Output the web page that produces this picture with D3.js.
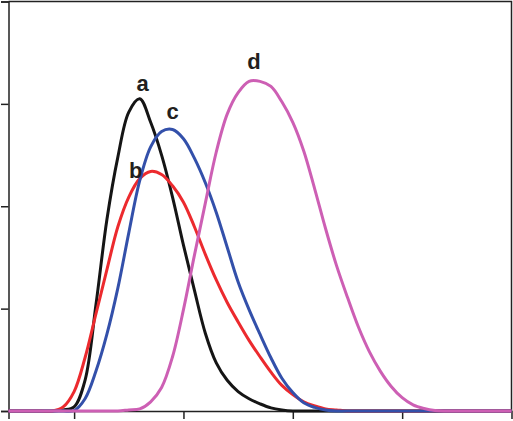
<!DOCTYPE html>
<html>
<head>
<meta charset="utf-8">
<script src="https://cdn.jsdelivr.net/npm/d3@7"></script>
<style>
    html, body { margin: 0; padding: 0; background: #fff; }
    svg { display: block; }
</style>
</head>
<body>
<svg id="chart"></svg>
<script>
// x positions shared by every curve
const xValues = [
    0.4, 0.5, 0.6, 0.7, 0.8, 0.9, 1.0, 1.1, 1.2, 1.3, 1.4, 1.5, 1.6, 1.7, 1.8, 1.9,
    2.0, 2.1, 2.2, 2.3, 2.4, 2.5, 2.6, 2.7, 2.8, 2.9, 3.0, 3.1, 3.2, 3.3, 3.4, 3.5,
    3.6, 3.7, 3.8, 3.9, 4.0, 4.1, 4.2, 4.3, 4.4, 4.5, 4.6, 4.7, 4.8, 4.9, 5.0
];

const seriesA = [
    0, 0, 0, 0, 0, 0.01, 0.04, 0.30, 1.04, 1.87, 2.48, 2.92, 3.05, 2.82, 2.50, 2.09,
    1.62, 1.18, 0.76, 0.47, 0.30, 0.19, 0.12, 0.07, 0.03, 0.01, 0, 0, 0, 0, 0, 0,
    0, 0, 0, 0, 0, 0, 0, 0, 0, 0, 0, 0, 0, 0, 0
];

const seriesB = [
    0, 0, 0, 0, 0, 0.04, 0.19, 0.52, 0.95, 1.38, 1.80, 2.09, 2.27, 2.34, 2.31, 2.20,
    2.04, 1.80, 1.53, 1.28, 1.06, 0.87, 0.69, 0.53, 0.38, 0.25, 0.16, 0.09, 0.05, 0.02, 0.01, 0,
    0, 0, 0, 0, 0, 0, 0, 0, 0, 0, 0, 0, 0, 0, 0
];

const seriesC = [
    0, 0, 0, 0, 0, 0, 0.005, 0.12, 0.39, 0.75, 1.20, 1.74, 2.25, 2.58, 2.73, 2.75,
    2.66, 2.47, 2.23, 1.94, 1.60, 1.26, 0.99, 0.75, 0.52, 0.32, 0.18, 0.08, 0.035, 0.01, 0, 0,
    0, 0, 0, 0, 0, 0, 0, 0, 0, 0, 0, 0, 0, 0, 0
];

const seriesD = [
    0, 0, 0, 0, 0, 0, 0, 0, 0, 0, 0, 0.01, 0.02, 0.09, 0.23, 0.53,
    0.99, 1.52, 2.03, 2.53, 2.90, 3.11, 3.22, 3.22, 3.17, 3.02, 2.82, 2.54, 2.17, 1.78, 1.42, 1.11,
    0.82, 0.58, 0.39, 0.24, 0.13, 0.06, 0.025, 0.005, 0, 0, 0, 0, 0, 0, 0
];

const seriesNames = ['a', 'b', 'c', 'd'];
const xTicks = [1, 2, 3, 4];
const yTicks = [0, 1, 2, 3, 4];

(function () {
    'use strict';

    const width = 513;
    const height = 421;
    const margin = { top: 1.5, right: 1.5, bottom: 10, left: 8.5 };

    const colors = ['#151515', '#ec2a2e', '#3350aa', '#cd5fb4'];
    // label offsets from each curve's peak, in pixels
    const labelOffsets = [[3, -8], [-15, 7], [0, -10], [5, -12]];

    const svg = d3.select('#chart')
        .attr('width', width)
        .attr('height', height);

    const x = d3.scaleLinear()
        .domain([0.4, 5.0])
        .range([margin.left, width - margin.right]);

    const y = d3.scaleLinear()
        .domain([0, 4])
        .range([height - margin.bottom, margin.top]);

    // Frame (top + right)
    svg.append('path')
        .attr('d', `M${x(0.4)},${y(4)}H${x(5.0)}V${y(0)}`)
        .attr('fill', 'none')
        .attr('stroke', '#222')
        .attr('stroke-width', 1.5);

    // Left axis
    const yAxis = svg.append('g')
        .attr('transform', `translate(${x(0.4)},0)`)
        .call(d3.axisLeft(y).tickValues(yTicks).tickSize(7.5).tickFormat(''));

    // Bottom axis
    const xAxis = svg.append('g')
        .attr('transform', `translate(0,${y(0)})`)
        .call(d3.axisBottom(x).tickValues(xTicks).tickSize(8).tickFormat(''));

    [yAxis, xAxis].forEach(ax => {
        ax.select('.domain').attr('stroke', '#222').attr('stroke-width', 1.5);
        ax.selectAll('.tick line').attr('stroke', '#222').attr('stroke-width', 1.5);
    });

    const allSeries = [seriesA, seriesB, seriesC, seriesD];

    const line = d3.line()
        .x((d, i) => x(xValues[i]))
        .y(d => y(Math.max(0, d)))
        .curve(d3.curveCatmullRom.alpha(0.5));

    // Curves
    svg.append('g')
        .selectAll('path')
        .data(allSeries)
        .join('path')
        .attr('d', d => line(d))
        .attr('fill', 'none')
        .attr('stroke', (d, i) => colors[i])
        .attr('stroke-width', 3)
        .attr('stroke-linejoin', 'round');

    // Labels above each peak
    svg.append('g')
        .selectAll('text')
        .data(allSeries)
        .join('text')
        .attr('x', (d, i) => x(xValues[d3.maxIndex(d)]) + labelOffsets[i][0])
        .attr('y', (d, i) => y(d3.max(d)) + labelOffsets[i][1])
        .attr('text-anchor', 'middle')
        .attr('font-family', 'Liberation Sans, Arial, sans-serif')
        .attr('font-weight', 'bold')
        .attr('font-size', '22px')
        .attr('fill', '#231f20')
        .text((d, i) => seriesNames[i]);
})();
</script>
</body>
</html>
